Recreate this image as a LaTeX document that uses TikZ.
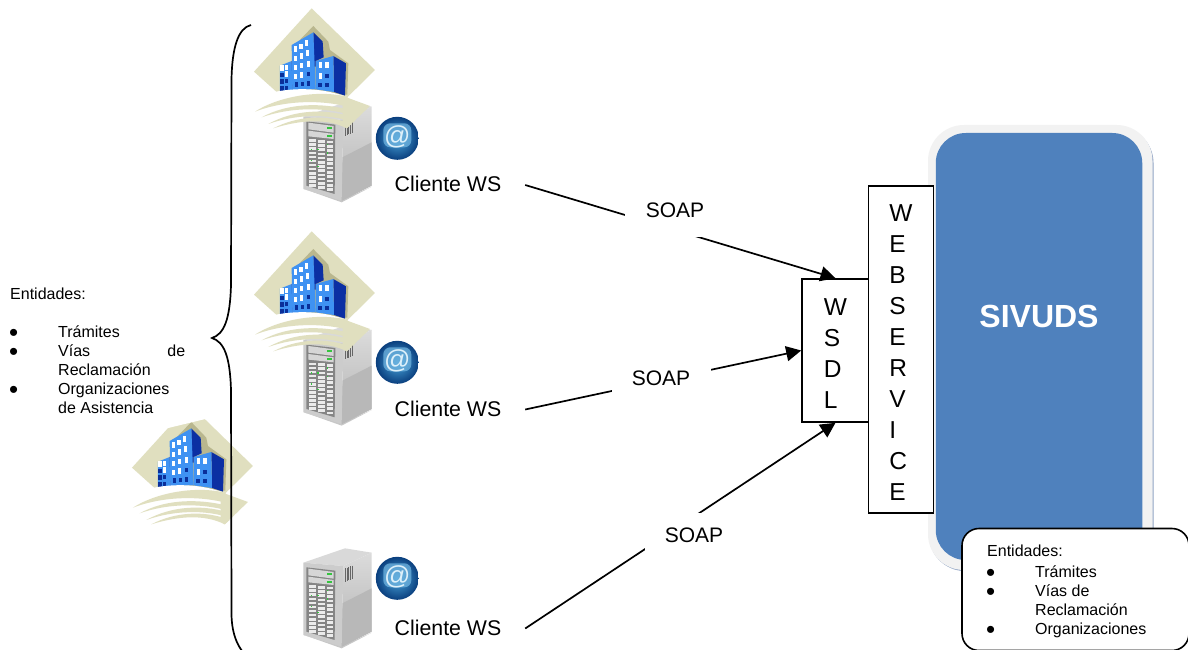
\documentclass[tikz,border=0pt]{standalone}
\usepackage{fontspec}
\setmainfont{Liberation Sans}
\usetikzlibrary{arrows.meta,positioning}
\definecolor{beige}{HTML}{E0DFBF}
\definecolor{beigedk}{HTML}{B9B78E}
\definecolor{bfront}{HTML}{3F92F2}
\definecolor{bside}{HTML}{0B2FA3}
\definecolor{bdark}{HTML}{0A2F9A}
\definecolor{sivblue}{HTML}{4F81BD}
\definecolor{sivedge}{HTML}{8FA3C4}
\definecolor{globein}{HTML}{4AA6DC}
\definecolor{globeout}{HTML}{0A3F7E}
\definecolor{globehi}{HTML}{6FB4E0}
\definecolor{globeat}{HTML}{DDF0FA}
\definecolor{ledgreen}{HTML}{35C43F}
\newcommand{\bul}{\smash{\kern-1pt\fontsize{26}{10}\selectfont\raisebox{-3.8pt}{•}}}
\newcommand{\bitem}{\makebox[48pt][l]{\bul}}
\newcommand{\bgap}{\makebox[48pt][l]{}}
\tikzset{
  x=1pt,y=-1pt,
  wire/.style={line width=1.7pt,black},
  arrowwire/.style={wire,-{Triangle[length=15pt,width=15pt]}},
  boxed/.style={draw=black,line width=1.6pt,fill=white,inner sep=0pt,align=left,font=\fontsize{24.5}{31}\selectfont},
  soap/.style={fill=white,inner sep=0pt,font=\fontsize{21}{25}\selectfont},
  client/.style={inner sep=0pt,minimum width=154pt,text height=15pt,text depth=2pt,font=\fontsize{21.3}{25}\selectfont},
  small/.style={inner sep=0pt,align=left,font=\fontsize{16}{19}\selectfont},
  buildingpic/.pic={
    \begin{scope}[x=0.3333pt,y=-0.3333pt]
      \fill[beige] (245,25)--(435,210)--(352,292)--(150,285)--(72,215)--cycle;
      \fill[beigedk] (250,78)--(295,125)--(300,150)--(355,190)--(352,284)--(200,284)--(190,140)--cycle;
      % left building
      \fill[bfront] (150,197)--(185,183)--(188,270)--(150,282)--cycle;
      \fill[bside] (185,183)--(191,187)--(191,270)--(188,270)--cycle;
      % right building
      \fill[bside] (310,168)--(348,190)--(345,287)--(312,276)--cycle;
      \fill[bfront] (257,183)--(310,168)--(312,276)--(257,268)--cycle;
      % middle building
      \fill[bside] (250,97)--(278,125)--(281,172)--(257,183)--(257,200)--(250,200)--cycle;
      \fill[bfront] (185,135)--(250,97)--(257,268)--(187,270)--cycle;
      \foreach \px/\py in {197/148,213/140,230/130,197/176,215/168,233/160,197/203,215/197,236/192,197/230,215/226,157/205,170/203,170/222,272/195,292/195,272/228}
        \fill[white] (\px-5.5,\py-8.5) rectangle (\px+5.5,\py+8.5);
      \foreach \px/\py in {236/222,200/253,218/252,236/250,157/225,157/245,170/243,157/265,170/264,292/228,270/255,292/255}
        \fill[bdark] (\px-5.5,\py-7) rectangle (\px+5.5,\py+7);
      % white sweep below the buildings
      \fill[white] (60,300)..controls (140,262) and (260,255) .. (352,292)--(370,300)--(340,310)--(60,320)--cycle;
      % bands
      \fill[beige] (75,335)..controls (140,292) and (260,268) .. (350,290)--(400,335)..controls (290,292) and (160,302) .. (75,335)--cycle;
      \fill[beige] (95,352)..controls (170,310) and (280,302) .. (395,340)--(385,352)..controls (290,318) and (180,322) .. (95,352)--cycle;
      \fill[beige] (115,372)..controls (190,330) and (290,322) .. (380,356)--(370,367)..controls (290,338) and (190,345) .. (115,372)--cycle;
      \fill[beige] (130,385)..controls (200,348) and (290,342) .. (365,372)--(350,385)..controls (290,354) and (210,360) .. (130,385)--cycle;
      \fill[beige] (338,288)--(420,318)--(350,385)--(338,366)--cycle;
    \end{scope}
  },
  serverpic/.pic={
    \begin{scope}[x=0.3333pt,y=-0.3333pt]
      \fill[black!22] (42,285)--(155,325)--(245,278)--(155,318)--cycle;
      \fill[black!15] (40,68)--(165,25)--(245,38)--(160,78)--cycle;
      \shade[top color=black!14,bottom color=black!30] (160,78)--(245,38)--(245,275)--(155,320)--cycle;
      \fill[black!28] (157,190)--(245,145)--(245,275)--(155,320)--cycle;
      \fill[black!20] (40,68)--(160,78)--(155,320)--(40,285)--cycle;
      \fill[black!48] (49,82)--(136,92)--(134,300)--(49,275)--cycle;
      \fill[black!16] (55,86)--(131,96)--(131,116)--(55,106)--cycle;
      \fill[black!16] (55,110)--(131,120)--(131,135)--(55,127)--cycle;
      \fill[ledgreen] (112,99) rectangle (127,105);
      \fill[ledgreen] (112,123) rectangle (127,129);
      \foreach \r in {0,...,11}{
        \fill[black!8] (56,{136+\r*12.2}) rectangle (79,{144+\r*12.2});
        \fill[black!8] (84,{138+\r*12.6}) rectangle (106,{146+\r*12.6});
        \fill[black!8] (110,{140+\r*13}) rectangle (130,{148+\r*13});
      }
      \foreach \px/\py in {63/165,63/198,82/165,82/215,110/150,110/175}
        \fill[ledgreen] (\px,\py) rectangle (\px+4,\py+4);
      \foreach \px in {166,171,176,181,186}
        \draw[black!60,line width=0.9pt] (\px,{85-(\px-166)*0.4}) -- (\px,{125-(\px-166)*0.4});
    \end{scope}
  },
  globepic/.pic={
    \shade[inner color=globein,outer color=globeout] (0,0) circle (21.5);
    \fill[globehi,opacity=.75,rounded corners=7pt] (-14,-15) rectangle (14,9);
    \node[inner sep=0pt,text=globeat,font=\fontsize{26}{26}\selectfont] at (0,-1) {@};
  }
}
\begin{document}
\begin{tikzpicture}
\useasboundingbox (0,0) rectangle (1188,650);
\fill[white] (0,0) rectangle (1188,650);

% SIVUDS
\fill[rounded corners=36pt,sivedge] (929,127) rectangle (1153.5,571);
\fill[rounded corners=36pt,black!5] (928,125) rectangle (1152.5,570);
\node[rectangle,rounded corners=30pt,fill=sivblue,minimum width=206.5pt,minimum height=427pt,inner sep=0pt] (core) at (1039,346.5) {};
\node[inner sep=0pt,text=white,font=\bfseries\fontsize{32}{36}\selectfont] (sivuds) at (1039,316) {SIVUDS};

% computers
\pic at (290,94) {serverpic};
\pic at (290,317.3) {serverpic};
\pic at (290,540) {serverpic};
\pic at (230,0) {buildingpic};
\pic at (230,223) {buildingpic};
\pic at (108,396) {buildingpic};
\fill[white] (160,430) -- (207,418.6) -- (192,400) -- cycle;
\pic at (397.3,138.3) {globepic};
\pic at (397.3,362.3) {globepic};
\pic at (397.3,578.3) {globepic};

% bracket
\draw[line width=1.7pt] (251,25) .. controls (238,28) and (232,48) .. (231.5,80)
  -- (231,285) .. controls (230,320) and (224,334) .. (212,338)
  .. controls (224,342) and (230,356) .. (231,390)
  -- (231.5,615) .. controls (232,635) and (238,650) .. (251,660);

% clients
\node[client] (c1) at (448,185) {Cliente WS};
\node[client] (c2) at (448,409.5) {Cliente WS};
\node[client] (c3) at (448,628.5) {Cliente WS};

% boxes
\node[boxed,minimum width=67pt,minimum height=143pt] (wsdl) at (835.5,350.5) {\rule{0pt}{23.5pt}W\\S\\D\\L};
\node[boxed,minimum width=65pt,minimum height=327pt] (ws) at (901,349.5) {\rule{0pt}{23.5pt}W\\E\\B\\S\\E\\R\\V\\I\\C\\E};

% connectors
\draw[arrowwire] (c1.east) -- (wsdl.north);
\draw[arrowwire] (c2.east) -- (wsdl.west);
\draw[arrowwire] (c3.east) -- (wsdl.south);
\node[soap,minimum width=100pt,minimum height=54pt] (s1) at (675,210) {SOAP};
\node[soap,minimum width=99pt,minimum height=44pt] (s2) at (661,378) {SOAP};
\node[soap,minimum width=98pt,minimum height=44pt] (s3) at (694,535) {SOAP};

% left text
\node[small,anchor=north west] (left) at (10,287.5) {Entidades:\\[19pt]%
\bitem Trámites\\
\bitem\makebox[127pt][s]{Vías\hfil de}\\
\bgap Reclamación\\
\bitem Organizaciones\\
\bgap de Asistencia};

% entities box
\node[rectangle,draw=black,fill=white,line width=1.6pt,rounded corners=17pt,minimum width=227pt,minimum height=122pt,inner sep=0pt] (ebox) at (1075.5,589.5) {};
\node[small,anchor=north west] (etext) at (987,545) {Entidades:\\[1.5pt]
\bitem Trámites\\
\bitem Vías de\\
\bgap Reclamación\\
\bitem Organizaciones};
\end{tikzpicture}
\end{document}
